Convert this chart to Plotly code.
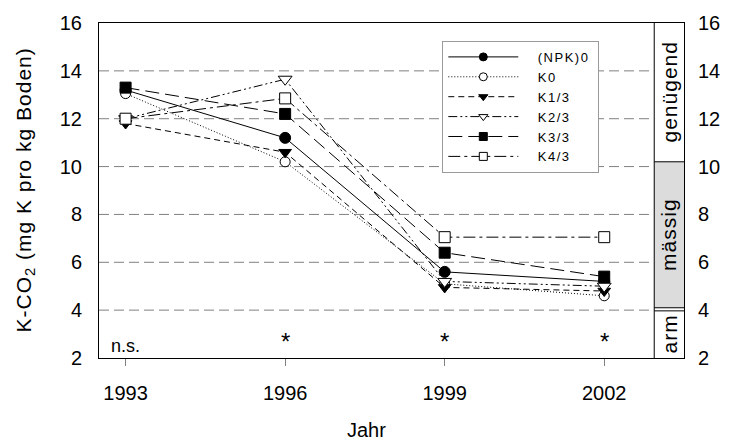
import plotly.graph_objects as go

years = [1993, 1996, 1999, 2002]
npk0 = [13.2, 11.2, 5.6, 5.2]
k0 = [13.05, 10.2, 5.1, 4.6]
k13 = [11.8, 10.6, 4.95, 4.8]
k23 = [12.0, 13.65, 5.2, 5.0]
k33 = [13.3, 12.2, 6.4, 5.4]
k43 = [12.0, 12.85, 7.05, 7.05]

series_names = ["(NPK)0", "K0", "K1/3", "K2/3", "K3/3", "K4/3"]
series_vals = [npk0, k0, k13, k23, k33, k43]

signif_labels = ["n.s.", "*", "*", "*"]

band_labels = ["genügend", "mässig", "arm"]
band_limits = [(10.2, 16), (4.1, 10.2), (2, 3.97)]

FONT = "Liberation Sans, Arial, sans-serif"
X_MAIN_END = 2002.94
X_END = 2003.5
X_START = 1992.5

W, H = 732, 441
ML, MT, MR = 99, 22, 40
MB = H - MT - 336


def spaced(t, px):
    return '<span style="letter-spacing:%spx">%s</span>' % (px, t)


styles = [
    dict(dash="solid", symbol="circle", fill="black", size=11, lsize=8),
    dict(dash="1px,2px", symbol="circle", fill="white", size=10, lsize=8),
    dict(dash="6px,4px", symbol="triangle-down", fill="black", size=11, lsize=8),
    dict(dash="9px,3px,2px,3px,2px,3px", symbol="triangle-down", fill="white", size=12, lsize=8),
    dict(dash="14px,6px", symbol="square", fill="black", size=11, lsize=8),
    dict(dash="12px,4px,3px,4px", symbol="square", fill="white", size=11, lsize=8),
]

fig = go.Figure()
for name, vals, st in zip(series_names, series_vals, styles):
    fig.add_trace(go.Scatter(
        x=years, y=vals, name=name, mode="lines+markers", showlegend=False,
        line=dict(color="black", width=1, dash=st["dash"]),
        marker=dict(symbol=st["symbol"], size=st["size"], color=st["fill"],
                    line=dict(color="black", width=1)),
    ))
# legend entries (smaller symbols as in the reference legend)
NB = "\u00a0"
for name, st in zip(series_names, styles):
    fig.add_trace(go.Scatter(
        x=[None], y=[None], name=NB * 4 + spaced(name, 1.5) + NB, mode="lines+markers",
        line=dict(color="black", width=1, dash=st["dash"]),
        marker=dict(symbol=st["symbol"], size=st["lsize"], color=st["fill"],
                    line=dict(color="black", width=1)),
    ))

# invisible trace for right axis
fig.add_trace(go.Scatter(x=[years[0]], y=[2], yaxis="y2", showlegend=False,
                         mode="markers", marker=dict(opacity=0), hoverinfo="skip"))

shapes = []
for g in [4, 6, 8, 10, 12, 14]:
    shapes.append(dict(type="line", xref="x", yref="y", x0=X_START, x1=X_MAIN_END, y0=g, y1=g,
                       line=dict(color="#808080", width=1, dash="10px,5px"), layer="below"))
# band column
shapes.append(dict(type="rect", xref="x", yref="y", x0=X_MAIN_END, x1=X_END,
                   y0=band_limits[1][0], y1=band_limits[1][1],
                   fillcolor="#dcdcdc", line=dict(width=0), layer="below"))
for yv in [band_limits[0][0], band_limits[1][0], band_limits[2][1]]:
    shapes.append(dict(type="line", xref="x", yref="y", x0=X_MAIN_END, x1=X_END, y0=yv, y1=yv,
                       line=dict(color="black", width=1)))
shapes.append(dict(type="line", xref="x", yref="y", x0=X_MAIN_END, x1=X_MAIN_END, y0=2, y1=16,
                   line=dict(color="black", width=1)))

annotations = []
for lab, (lo, hi) in zip(band_labels, band_limits):
    annotations.append(dict(x=(X_MAIN_END + X_END) / 2, y=(lo + hi) / 2, xref="x", yref="y",
                            text=spaced(lab, 1), textangle=-90, showarrow=False,
                            font=dict(family=FONT, size=21, color="black")))
for yr, lab in zip(years, signif_labels):
    if lab == "n.s.":
        annotations.append(dict(x=yr, y=2.5, xref="x", yref="y", text=lab, showarrow=False,
                                yanchor="middle",
                                font=dict(family=FONT, size=18, color="black")))
    else:
        annotations.append(dict(x=yr, y=2.7, xref="x", yref="y", text=lab, showarrow=False,
                                yanchor="middle",
                                font=dict(family=FONT, size=24, color="black")))
annotations.append(dict(x=(23 - ML) / 593, y=0.5, xref="paper", yref="paper", xanchor="center",
                        yanchor="middle",
                        text=spaced("K-CO<sub>2</sub> (mg K pro kg Boden)", 1), textangle=-90,
                        showarrow=False, font=dict(family=FONT, size=21, color="black")))
annotations.append(dict(x=(370 - ML) / 593, y=(358 - 430) / 336, xref="paper", yref="paper",
                        xanchor="center", yanchor="middle",
                        text="Jahr", showarrow=False, font=dict(family=FONT, size=20, color="black")))

fig.update_layout(
    width=W, height=H,
    margin=dict(l=ML, r=MR, t=MT, b=MB),
    paper_bgcolor="white", plot_bgcolor="white",
    font=dict(family=FONT, size=20, color="black"),
    shapes=shapes, annotations=annotations,
    xaxis=dict(range=[X_START, X_END], tickvals=years, ticktext=[str(y) for y in years],
               showgrid=False, zeroline=False, showline=True, mirror=True, linecolor="black",
               linewidth=1, ticks="outside", ticklen=7, tickcolor="#808080",
               ticklabelstandoff=10,
               tickfont=dict(family=FONT, size=20, color="black")),
    yaxis=dict(range=[2, 16], tickvals=list(range(2, 17, 2)), showgrid=False, zeroline=False,
               showline=True, linecolor="black", linewidth=1, ticks="",
               ticklabelstandoff=12, tickfont=dict(family=FONT, size=20, color="black")),
    yaxis2=dict(range=[2, 16], tickvals=list(range(2, 17, 2)), overlaying="y", side="right",
                showgrid=False, zeroline=False, showline=True, linecolor="black", linewidth=1,
                ticks="", ticklabelstandoff=9, tickfont=dict(family=FONT, size=20, color="black")),
    legend=dict(x=(447 - ML) / 593, y=1 - (40 - MT) / 336, xanchor="left", yanchor="top",
                bgcolor="white", bordercolor="#9a9a9a", borderwidth=1, itemwidth=70,
                font=dict(family=FONT, size=13, color="black"), tracegroupgap=0),
    showlegend=True,
)

fig.write_html("out.html", config={"displayModeBar": False},
               post_script="document.body.style.margin='0';document.body.style.overflow='hidden';")
